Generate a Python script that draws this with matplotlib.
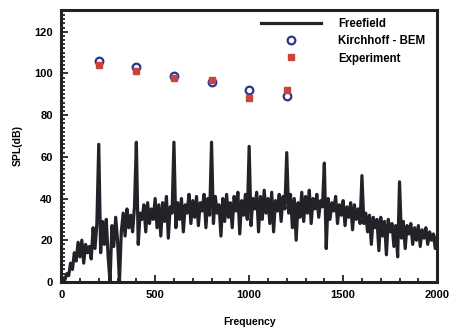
import matplotlib.pyplot as plt
from matplotlib.ticker import MultipleLocator
import numpy as np

# freefield spectrum, one reading every 10 Hz (0 .. 2000 Hz)
freefield = [
    0, 2, 1, 4, 3, 9, 6, 14, 10, 19,
    12, 20, 9, 18, 14, 17, 11, 26, 16, 28,
    66, 14, 29, 18, 30, 12, 0, 27, 17, 31,
    20, 0, 24, 33, 22, 35, 26, 32, 24, 36,
    67, 18, 33, 30, 37, 24, 38, 28, 35, 30,
    40, 26, 37, 22, 38, 29, 41, 21, 36, 33,
    67, 26, 38, 30, 40, 24, 37, 33, 42, 28,
    39, 31, 41, 27, 38, 34, 42, 26, 40, 32,
    67, 28, 41, 33, 37, 22, 40, 29, 42, 31,
    38, 26, 41, 34, 43, 23, 39, 32, 42, 30,
    65, 27, 40, 35, 43, 24, 41, 30, 44, 33,
    40, 28, 43, 24, 39, 34, 42, 29, 41, 35,
    62, 33, 42, 26, 40, 20, 38, 31, 43, 29,
    41, 33, 44, 28, 40, 35, 42, 31, 39, 36,
    57, 16, 40, 30, 38, 34, 41, 28, 37, 32,
    39, 27, 36, 31, 38, 25, 37, 30, 35, 28,
    51, 28, 33, 24, 32, 18, 31, 26, 30, 15,
    31, 22, 29, 13, 30, 24, 28, 17, 27, 12,
    48, 21, 29, 16, 27, 23, 28, 18, 26, 20,
    27, 17, 25, 21, 26, 18, 24, 20, 23, 16,
    22,
]
ff_freq = np.arange(len(freefield)) * 10

tone_freq = [200, 400, 600, 800, 1000, 1200]
kirchhoff_bem = [106, 103, 99, 96, 92, 89]
experiment = [104, 101, 98, 97, 88, 92]

plt.rcParams['font.family'] = ['Liberation Sans', 'DejaVu Sans']
plt.rcParams['font.weight'] = 'bold'

fig = plt.figure(figsize=(4.53, 3.36), dpi=100)
ax = fig.add_axes([0.135, 0.161, 0.83, 0.809])

ax.plot(ff_freq, freefield, color="#222228", lw=2.3, label="Freefield")
ax.plot(tone_freq, kirchhoff_bem, ls="none", marker="o", ms=5.5, mfc="none",
        mec="#2a3590", mew=1.6, label="Kirchhoff - BEM")
ax.plot(tone_freq, experiment, ls="none", marker="s", ms=3.8, mfc="#c8453a",
        mec="#c8453a", label="Experiment")

ax.set_xlim(0, 2000)
ax.set_ylim(0, 130.4)
ax.xaxis.set_major_locator(MultipleLocator(500))
ax.xaxis.set_minor_locator(MultipleLocator(100))
ax.yaxis.set_major_locator(MultipleLocator(20))
ax.yaxis.set_minor_locator(MultipleLocator(2))
ax.tick_params(which="both", direction="in", top=False, right=False,
               labelsize=8, color="#222", width=1.3, pad=6)
ax.tick_params(which="major", length=5)
ax.tick_params(which="minor", length=3)
for s in ax.spines.values():
    s.set_linewidth(2.2)
    s.set_color("#222")

ax.set_xlabel("Frequency", fontsize=7.5, fontweight="bold", labelpad=12)
ax.set_ylabel("SPL(dB)", fontsize=7.5, fontweight="bold", labelpad=8)

ax.legend(loc="upper right", frameon=False, fontsize=8.3, handlelength=5.2,
          handletextpad=1.5, labelspacing=0.45, borderaxespad=0.3,
          bbox_to_anchor=(0.99, 1.0))

fig.savefig("out.png", dpi=100)
